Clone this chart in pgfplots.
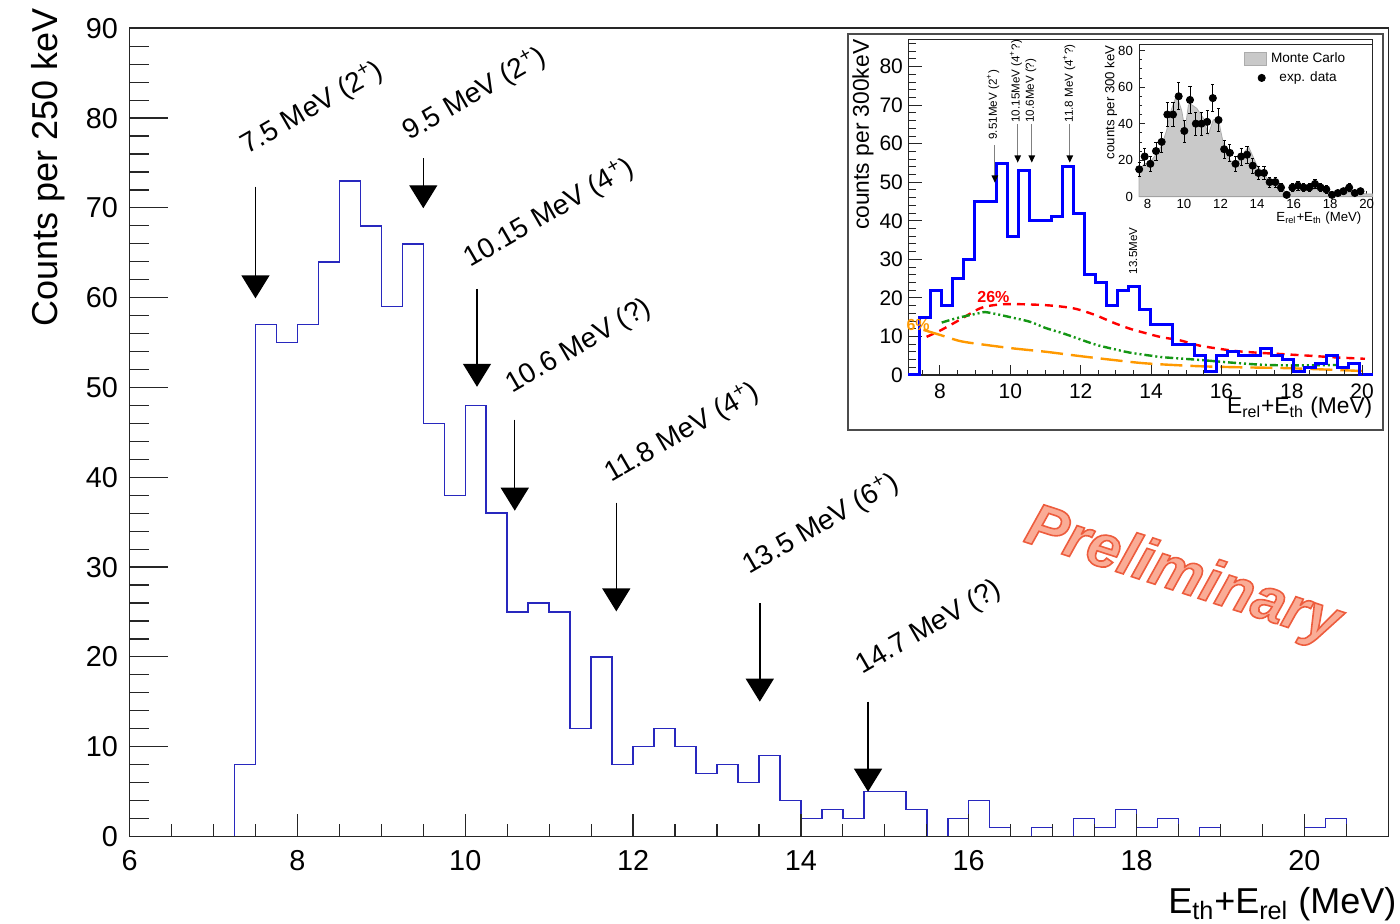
\documentclass[border=0pt]{standalone}
\usepackage{fontspec}
\setmainfont{Liberation Sans}
\usepackage{pgfplots}
\pgfplotsset{compat=1.18}
\usetikzlibrary{arrows.meta}
\definecolor{histblue}{RGB}{40,40,190}
\definecolor{insetblue}{RGB}{0,0,255}
\definecolor{rootgreen}{RGB}{20,150,20}
\definecolor{rootorange}{RGB}{255,153,0}
\definecolor{prelimfill}{RGB}{250,172,150}
\newcommand\fmain{\fontsize{14.4}{17}\selectfont}
\newcommand\ftitle{\fontsize{18}{21}\selectfont}
\newcommand\farrow{\fontsize{14}{16}\selectfont}
\newcommand\fins{\fontsize{10.5}{12}\selectfont}
\newcommand\finslab{\fontsize{11.4}{13}\selectfont}
\newcommand\fsmall{\fontsize{5.8}{7}\selectfont}
\newcommand\fin{\fontsize{6.6}{8}\selectfont}
\pgfplotsset{/pgf/number format/assume math mode=true}
\begin{document}
\begin{tikzpicture}
\useasboundingbox (-64.8pt,-43.75pt) rectangle (635.2pt,418.25pt);
% ---------------- main axis: y ticks, x tick labels and data
\begin{axis}[name=main, at={(0pt,0pt)}, anchor=south west, scale only axis,
  width=629.35pt, height=404.1pt, xmin=6, xmax=21, ymin=0, ymax=90, clip=false,
  axis on top,
  axis line style={draw=black!85, line width=0.8pt},
  tick align=inside, ytick pos=left, xtick pos=bottom,
  xtick={6,8,...,20}, xtick style={draw=none},
  xticklabel style={font=\fmain, inner sep=0pt, anchor=north, yshift=-6.75pt},
  ytick={0,10,...,90}, minor ytick={2,4,...,88},
  major tick length=19pt, minor tick length=9.5pt,
  ytick style={black!85, line width=0.6pt},
  yticklabel style={font=\fmain, inner sep=0pt, xshift=-5.65pt},
  ylabel={Counts per 250 keV},
  every axis y label/.style={at={(axis description cs:-0.0645,1.025)}, rotate=90, anchor=east, inner sep=0pt, font=\ftitle},
]
\addplot[const plot, histblue, line width=0.75pt] coordinates {
(7.25,0)(7.25,8)(7.5,57)(7.75,55)(8.0,57)(8.25,64)(8.5,73)(8.75,68)(9.0,59)(9.25,66)
(9.5,46)(9.75,38)(10.0,48)(10.25,36)(10.5,25)(10.75,26)(11.0,25)(11.25,12)(11.5,20)(11.75,8)
(12.0,10)(12.25,12)(12.5,10)(12.75,7)(13.0,8)(13.25,6)(13.5,9)(13.75,4)(14.0,2)(14.25,3)
(14.5,2)(14.75,5)(15.0,5)(15.25,3)(15.5,0)(15.75,2)(16.0,4)(16.25,1)(16.5,0)(16.75,1)
(17.0,0)(17.25,2)(17.5,1)(17.75,3)(18.0,1)(18.25,2)(18.5,0)(18.75,1)(19.0,0)(20.0,1)
(20.25,2)(20.5,0)(20.5,0)};
% arrows
\draw[black, line width=0.7pt, -{Triangle[width=14pt,length=11.5pt]}] (axis cs:7.5,72.36) -- (axis cs:7.5,59.93);
\draw[black, line width=0.7pt, -{Triangle[width=14pt,length=11.5pt]}] (axis cs:9.5,75.52) -- (axis cs:9.5,69.96);
\draw[black, line width=0.7pt, -{Triangle[width=14pt,length=11.5pt]}] (axis cs:10.14,60.97) -- (axis cs:10.14,50.08);
\draw[black, line width=0.7pt, -{Triangle[width=14pt,length=11.5pt]}] (axis cs:10.59,46.43) -- (axis cs:10.59,36.28);
\draw[black, line width=0.7pt, -{Triangle[width=14pt,length=11.5pt]}] (axis cs:11.80,37.19) -- (axis cs:11.80,25.07);
\draw[black, line width=0.7pt, -{Triangle[width=14pt,length=11.5pt]}] (axis cs:13.51,26.0) -- (axis cs:13.51,15.01);
\draw[black, line width=0.7pt, -{Triangle[width=14pt,length=11.5pt]}] (axis cs:14.80,15.01) -- (axis cs:14.80,4.99);
\node[rotate=30, anchor=base west, inner sep=0pt, font=\farrow] at (axis cs:7.40,75.89) {7.5 MeV (2\textsuperscript{+})};
\node[rotate=30, anchor=base west, inner sep=0pt, font=\farrow] at (axis cs:9.333,77.45) {9.5 MeV (2\textsuperscript{+})};
\node[rotate=30, anchor=base west, inner sep=0pt, font=\farrow] at (axis cs:10.061,63.3) {10.15 MeV (4\textsuperscript{+})};
\node[rotate=30, anchor=base west, inner sep=0pt, font=\farrow] at (axis cs:10.558,49.32) {10.6 MeV (?)};
\node[rotate=30, anchor=base west, inner sep=0pt, font=\farrow] at (axis cs:11.738,39.38) {11.8 MeV (4\textsuperscript{+})};
\node[rotate=30, anchor=base west, inner sep=0pt, font=\farrow] at (axis cs:13.381,29.12) {13.5 MeV (6\textsuperscript{+})};
\node[rotate=30, anchor=base west, inner sep=0pt, font=\farrow] at (axis cs:14.733,17.98) {14.7 MeV (?)};
\node[rotate=-18, font=\fontsize{30}{30}\selectfont\bfseries\itshape, text=prelimfill] at (axis cs:18.55,28.9)
  {\special{pdf:code q 2 Tr 0.93 0.36 0.24 RG 0.8 w}Preliminary\special{pdf:code Q}};
\end{axis}
% ---------------- main axis overlay: x ticks only
\begin{axis}[at={(0pt,0pt)}, anchor=south west, scale only axis,
  width=629.35pt, height=404.1pt, xmin=6, xmax=21, ymin=0, ymax=90,
  axis line style={draw=none},
  tick align=inside, xtick pos=bottom, ytick=\empty,
  xtick={6,8,...,20}, minor xtick={6.5,7,...,20.5}, xticklabels={},
  major tick length=11.3pt, minor tick length=6.3pt,
  tick style={black!85, line width=0.6pt},
  xlabel={E\textsubscript{th}+E\textsubscript{rel} (MeV)},
  every axis x label/.style={at={(axis description cs:1.0067,-0.0947)}, anchor=base east, inner sep=0pt, font=\ftitle},
]
\end{axis}
% ---------------- inset frame
\draw[fill=white, draw=black!70, line width=1pt] (359.35pt,203.25pt) rectangle (626.55pt,401.25pt);
% ---------------- inset 1: y ticks and data
\begin{axis}[at={(389.35pt,230.75pt)}, anchor=south west, scale only axis,
  width=232.2pt, height=167.85pt, xmin=7.1, xmax=20.3, ymin=0, ymax=87.1, clip=false,
  axis line style={draw=black!85, line width=0.6pt},
  tick align=inside, ytick pos=left, xtick=\empty,
  ytick={0,10,...,80}, minor ytick={2,4,...,86},
  major tick length=6.7pt, minor tick length=3.8pt,
  tick style={black!85, line width=0.5pt},
  yticklabel style={font=\fins, inner sep=0pt, xshift=-2.5pt},
  ylabel={counts per 300keV},
  every axis y label/.style={at={(axis description cs:-0.0975,1.0)}, rotate=90, anchor=east, inner sep=0pt, font=\finslab},
]
\addplot[red, line width=1.2pt, dash pattern=on 4pt off 3pt, smooth] coordinates {
(7.62,9.9)(8.0,11.5)(8.5,14)(9.14,17.3)(9.6,18.2)(10.08,18.4)(11.03,18.1)(11.79,17.3)(12.4,15.6)(12.92,13.6)(13.4,12)(13.87,10.8)(14.3,9.8)(14.82,9.0)(15.39,7.6)(16.33,6.3)(17.0,5.8)(17.75,5.4)(18.5,5)(19.18,4.6)(20.08,4.2)};
\addplot[rootgreen, line width=1.2pt, dash pattern=on 4pt off 1.5pt on 1pt off 1.5pt on 1pt off 1.5pt, smooth] coordinates {
(8.05,13.6)(8.5,14.8)(9.14,16.1)(9.3,16.3)(9.6,15.8)(10.0,15)(10.56,13.8)(11.0,12.2)(11.5,10.8)(12.0,9.2)(12.45,7.8)(13.0,6.6)(13.4,5.8)(14.0,5)(14.35,4.6)(15.39,3.9)(16.3,3.2)(17.28,2.6)(18.3,2.5)(19.3,2.6)};
\addplot[rootorange, line width=1.2pt, dash pattern=on 11pt off 4pt, smooth] coordinates {
(7.53,11.7)(8.0,10.4)(8.57,8.8)(9.14,8.0)(10.08,6.9)(11.03,6.0)(11.98,4.9)(12.92,3.9)(13.87,3.0)(15.3,2.3)(16.5,2.0)(17.75,1.8)(19.0,1.4)(20.08,1.0)};
\addplot[const plot, insetblue, line width=1.5pt] coordinates {
(7.1,0)(7.4125,15)(7.725,22)(8.0375,18)(8.35,25)(8.6625,30)(8.975,45)(9.2875,45)(9.6,55)(9.9125,36)
(10.225,53)(10.5375,40)(10.85,40)(11.1625,41)(11.475,54)(11.7875,42)(12.1,26)(12.4125,24)(12.725,18)(13.0375,22)
(13.35,23)(13.6625,17)(13.975,13)(14.2875,13)(14.6,8)(14.9125,8)(15.225,5)(15.5375,1)(15.85,5)(16.1625,6)
(16.475,5)(16.7875,5)(17.1,7)(17.4125,5)(17.725,4)(18.0375,1)(18.35,2)(18.6625,3)(18.975,5)(19.2875,2)
(19.6,3)(19.9125,0)(20.3,0)};
\draw[gray, line width=0.6pt, -{Triangle[width=3.2pt,length=3.6pt,color=black]}] (axis cs:9.56,59.7) -- (axis cs:9.56,49.9);
\draw[gray, line width=0.6pt, -{Triangle[width=3.2pt,length=3.6pt,color=black]}] (axis cs:10.21,65.1) -- (axis cs:10.21,55.1);
\draw[gray, line width=0.6pt, -{Triangle[width=3.2pt,length=3.6pt,color=black]}] (axis cs:10.61,65.1) -- (axis cs:10.61,55.1);
\draw[gray, line width=0.6pt, -{Triangle[width=3.2pt,length=3.6pt,color=black]}] (axis cs:11.69,65.1) -- (axis cs:11.69,55.1);
\node[rotate=90, anchor=west, inner sep=0pt, font=\fsmall] at (axis cs:9.51,61) {9.51MeV (2\textsuperscript{+})};
\node[rotate=90, anchor=west, inner sep=0pt, font=\fsmall] at (axis cs:10.16,65.4) {10.15MeV (4\textsuperscript{+}?)};
\node[rotate=90, anchor=west, inner sep=0pt, font=\fsmall] at (axis cs:10.58,65.4) {10.6MeV (?)};
\node[rotate=90, anchor=west, inner sep=0pt, font=\fsmall] at (axis cs:11.67,65.4) {11.8 MeV (4\textsuperscript{+}?)};
\node[rotate=90, inner sep=0pt, font=\fsmall] at (axis cs:13.49,32.2) {13.5MeV};
\node[inner sep=0pt, font=\fontsize{8}{9}\selectfont\bfseries, text=red] at (axis cs:9.52,20.3) {26\%};
\node[inner sep=0pt, font=\fontsize{8}{9}\selectfont\bfseries, text=rootorange] at (axis cs:7.38,13) {6\%};
\end{axis}
% ---------------- inset 1 overlay: x ticks
\begin{axis}[at={(389.35pt,230.75pt)}, anchor=south west, scale only axis,
  width=232.2pt, height=167.85pt, xmin=7.1, xmax=20.3, ymin=0, ymax=87.1,
  axis line style={draw=none},
  tick align=inside, xtick pos=bottom, ytick=\empty,
  xtick={8,10,...,20}, minor xtick={7.5,8,...,20},
  major tick length=5pt, minor tick length=2.5pt,
  tick style={black!85, line width=0.5pt},
  xticklabel style={font=\fins, inner sep=0pt, anchor=north, yshift=-4.15pt},
  xlabel={E\textsubscript{rel}+E\textsubscript{th} (MeV)},
  every axis x label/.style={at={(axis description cs:1.0,-0.116)}, anchor=base east, inner sep=0pt, font=\finslab},
]
\end{axis}
% ---------------- inset 2
\begin{axis}[at={(504.7pt,319.9pt)}, anchor=south west, scale only axis,
  width=116.85pt, height=75.85pt, xmin=7.54, xmax=20.33, ymin=0, ymax=83.1, clip=false,
  axis line style={draw=black!85, line width=0.5pt},
  tick align=inside, xtick pos=bottom, ytick pos=left,
  xtick={8,10,...,20}, minor xtick={8,8.5,...,20},
  ytick={0,20,...,80}, minor ytick={0,5,...,80},
  major tick length=3pt, minor tick length=1.5pt,
  tick style={black!85, line width=0.4pt},
  xticklabel style={font=\fin, inner sep=0pt, anchor=north, yshift=-1.3pt},
  yticklabel style={font=\fin, inner sep=0pt, xshift=-2.85pt},
  ylabel={counts per 300 keV},
  every axis y label/.style={at={(axis description cs:-0.12,1.0)}, rotate=90, anchor=east, inner sep=0pt, font=\fin},
  xlabel={E\textsubscript{rel}+E\textsubscript{th} (MeV)},
  every axis x label/.style={at={(axis description cs:0.953,-0.165)}, anchor=base east, inner sep=0pt, font=\fin},
  legend style={at={(axis description cs:0.905,0.985)}, anchor=north east, draw=none, fill=none,
    font=\fontsize{6.8}{8}\selectfont, row sep=-1pt, inner sep=0.5pt},
  legend cell align=center,
]
\addplot[fill=gray!42, draw=gray!65, line width=0.4pt,
  legend image code/.code={\draw[fill=gray!42, draw=gray!65, line width=0.4pt] (0pt,-3.25pt) rectangle (11pt,3.25pt);}]
coordinates {
(7.54,14.6)(7.84,18)(8.15,19)(8.46,23)(8.78,28)(9.06,36.5)(9.24,45.7)(9.6,55.7)(9.88,47)(10.06,36.5)
(10.24,50)(10.33,51)(10.7,48.4)(11.06,43)(11.25,36.5)(11.33,33.8)(11.6,42)(11.88,43)(12.0,36.5)(12.16,29)
(12.43,21)(12.7,18.3)(13.07,20)(13.34,24.7)(13.53,27.4)(13.7,23.7)(13.98,17.4)(14.35,12.8)(14.7,8.2)(15.08,6.4)
(15.6,2.4)(15.99,2.7)(16.35,3.7)(17.08,4)(17.45,4.6)(17.99,2.7)(18.54,2.2)(19.27,2.4)(20.0,1.5)(20.33,1.5)} \closedcycle;
\addlegendentry{Monte Carlo}
\addplot[only marks, mark=*, mark size=1.8pt, black,
  error bars/.cd, y dir=both, y explicit,
  error bar style={line width=0.4pt, black},
  error mark options={rotate=90, mark size=0.8pt, line width=0.4pt},
  ]
  coordinates {
(7.55,15)+-(0,3.87)(7.85,22)+-(0,4.69)(8.16,18)+-(0,4.24)(8.47,25)+-(0,5)(8.78,30)+-(0,5.48)
(9.09,45)+-(0,6.71)(9.40,45)+-(0,6.71)(9.71,55)+-(0,7.42)(10.02,36)+-(0,6)(10.33,53)+-(0,7.28)
(10.65,40)+-(0,6.32)(10.96,40)+-(0,6.32)(11.27,41)+-(0,6.4)(11.58,54)+-(0,7.35)(11.89,42)+-(0,6.48)
(12.20,26)+-(0,5.1)(12.51,24)+-(0,4.9)(12.82,18)+-(0,4.24)(13.13,22)+-(0,4.69)(13.45,23)+-(0,4.8)
(13.76,17)+-(0,4.12)(14.07,13)+-(0,3.6)(14.38,13)+-(0,3.6)(14.69,8)+-(0,2.83)(15.00,8)+-(0,2.83)
(15.31,5)+-(0,2.24)(15.62,1)+-(0,1)(15.93,5)+-(0,2.24)(16.24,6)+-(0,2.45)(16.55,5)+-(0,2.24)
(16.86,5)+-(0,2.24)(17.17,7)+-(0,2.65)(17.48,5)+-(0,2.24)(17.79,4)+-(0,2)(18.10,1)+-(0,1)
(18.42,2)+-(0,1.41)(18.73,3)+-(0,1.73)(19.04,5)+-(0,2.24)(19.35,2)+-(0,1.41)(19.66,3)+-(0,1.73)};
\addlegendentry{exp. data}
\end{axis}
\end{tikzpicture}
\end{document}
